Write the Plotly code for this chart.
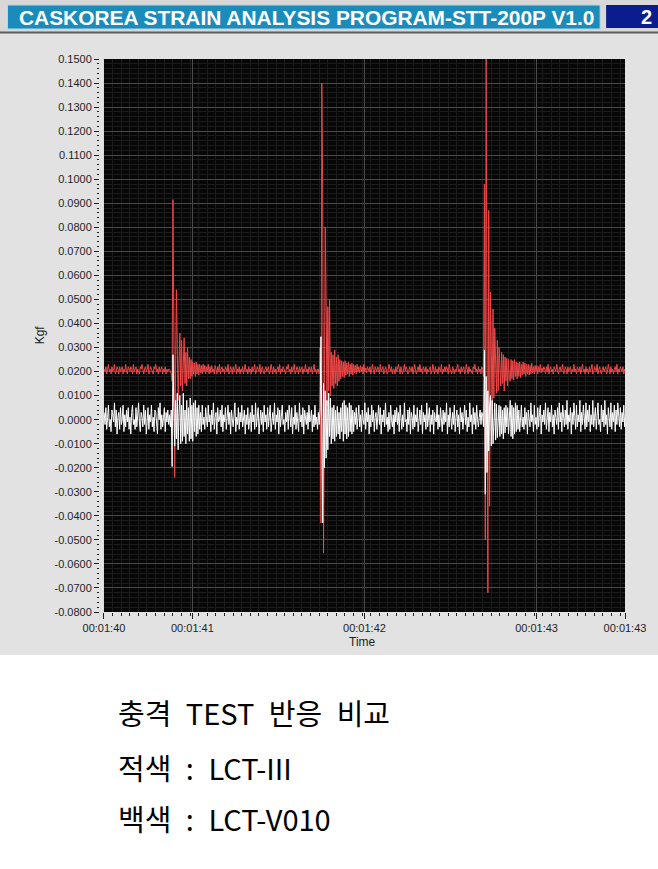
import numpy as np
import plotly.graph_objects as go

# ---------------- data (values in 0.001 kgf) ----------------
T0 = 100.487     # time of first sample [s]
DT = 0.005       # sample interval [s]

# red trace (LCT-III)
red_a = [21, 20, 22, 19, 21, 23, 20, 21, 19, 22, 20, 21, 23, 19, 20, 22, 21, 19, 22, 20,
         21, 22, 19, 21, 20, 23, 20, 19, 22, 21, 20, 22, 21, 19, 23, 20, 21, 22, 19, 21,
         20, 19, 22, 21, 23, 20, 19, 21, 22, 20, 21, 23, 19, 20, 22, 21, 20, 19, 22, 21,
         23, 20, 21, 19, 22, 20, 21, 22, 19, 21, 20, 22, 19, 21, 20, 21]
red_hit1 = [21, 20, 19, 16, 91.5, 40, -24, 20, 54, 30, 8, 24, 36, 14, 33, 12, 29, 34, 15, 28,
            14, 30, 17, 26]
red_b = [17, 25, 18, 24, 19, 23.5, 18, 24, 19, 23, 18.5, 23, 19.5, 22.5, 19, 23, 20, 22.5, 19, 22,
         20, 23, 19, 22, 19.5, 22.5, 20, 21, 19, 22.5, 21, 19, 22, 20, 23, 19, 21, 22, 20, 21,
         19, 22, 21, 20, 23, 19, 20, 22, 21, 19, 22, 20, 21, 23, 19, 21, 20, 22, 19, 21,
         20, 22, 19, 21, 23, 20, 21, 19, 22, 20, 21, 19, 22, 20, 21, 23, 19, 20, 22, 21,
         20, 23, 19, 21, 22, 20, 19, 21, 22, 20, 21, 22, 19, 20, 23, 21, 19, 22, 20, 21,
         19, 21, 22, 20, 23, 19, 21, 20, 22, 21, 20, 19, 22, 21, 23, 20, 21, 19, 22, 20,
         21, 23, 19, 20, 22, 21, 19, 22, 20, 21, 22, 19, 21, 20, 23, 20, 21, 19, 22, 21,
         20, 22, 19, 21, 23, 20, 21, 19, 21]
red_hit2 = [21, 19, 30, -43, 140, 96, -55.5, 20, 80, 50, 6, 47, 12, 50, 10, 28, 14, 27, 13, 29,
            15, 26, 14, 27, 16, 25, 17, 24.5]
red_c = [18, 24, 17.5, 24.5, 18.5, 23.5, 19, 24, 18, 23, 19, 23.5, 18.5, 23, 19.5, 22.5, 19, 23, 20, 22,
         19.5, 22.5, 20, 22, 19, 23, 20, 21.5, 19.5, 22, 21, 20, 22, 19, 21, 23, 20, 19, 22, 21,
         20, 22, 21, 19, 23, 20, 21, 22, 19, 20, 22, 21, 19, 20, 23, 21, 20, 22, 19, 21,
         21, 19, 22, 20, 21, 23, 20, 19, 22, 20, 19, 21, 23, 20, 22, 21, 19, 20, 22, 21,
         20, 22, 19, 21, 23, 20, 19, 21, 22, 20, 23, 20, 21, 19, 22, 21, 20, 22, 19, 21,
         20, 21, 22, 19, 20, 23, 21, 19, 22, 20, 21, 19, 22, 21, 20, 23, 19, 21, 20, 22,
         20, 22, 21, 19, 23, 21, 20, 19, 22, 21, 19, 21, 20, 22, 23, 20, 21, 19, 22, 20,
         21, 22, 19, 20, 23, 21, 19, 22, 20, 21, 20, 19, 22, 21, 23, 20, 21, 19, 22, 20,
         21, 19, 22]
red_hit3 = [21, 18, 98, -50, 150, 40, -72, 87, -36, 53, 20, 4, 46, 9, 38, 28, 11, 33, 12, 30,
            22, 14, 28, 15, 27, 12, 26, 16, 25.5, 14, 25, 17]
red_d = [16, 25, 17, 24.5, 16.5, 25, 18, 24, 17, 23.5, 18, 24, 17.5, 23, 18.5, 24, 19, 23.5, 18, 23,
         19, 23, 18.5, 22.5, 19, 23.5, 19.5, 22, 19, 22.5, 20, 22.5, 19, 22, 20, 23, 19.5, 21.5, 20, 22,
         21, 19, 22, 20, 23, 19, 21, 22, 20, 21, 19, 22, 21, 20, 23, 20, 19, 21, 22, 20,
         21, 23, 19, 20, 22, 21, 19, 22, 20, 21, 22, 19, 21, 20, 23, 20, 21, 19, 22, 21,
         20, 22, 19, 21, 23, 20, 21, 19, 22, 20, 21, 19, 22, 20, 21, 23, 19, 20, 22, 21,
         20, 23, 19, 21, 22, 20, 19, 21, 22, 20, 21, 22, 19, 20, 23, 21, 19, 22, 20, 21,
         19, 21, 22, 20, 23, 19, 21, 20, 22, 21, 20, 22, 19, 21, 20]

# white trace (LCT-V010)
white_a = [3, -2, 5, -4, 1, 6, -3, 0, -5, 4, 2, -1, 7, -3, 4, -6, 1, 3, -4, 5,
           -2, 0, 6, -5, 2, -3, 4, -1, 5, -4, 1, -6, 3, 6, -2, 0, -4, 5, -3, 2,
           7, -1, -5, 3, 1, -3, 6, -2, 4, -6, 0, 5, -4, 2, -1, 6, -3, 1, -5, 4,
           3, -2, -6, 5, 0, 7, -4, 2, -3, 1, 5, -5, 3, -1, 4, -2]
white_hit1 = [2, -3, 4, -19.5, 27, 5, -11, 8, -8, 11, -12.5, 3, 10, -10, 6, -9, 11, -7, 4, -10,
              8, -6, 5, -9]
white_b = [9, -8, 6, -9, 7, -5, 8, -7, 5, -6, 6, -4, 3, -5, 6, -2, 1, -4, 5, 0,
           -3, 6, -1, 2, -5, 4, -2, 7, -4, 1, 3, -6, 5, -1, 0, 4, -3, 6, -5, 2,
           -1, 5, -4, 1, 6, -2, 3, -6, 4, 0, -3, 2, 7, -5, 1, -2, 5, -4, 3, -1,
           6, -3, 0, 4, -6, 2, -2, 5, -4, 1, 3, -5, 6, -1, 2, -4, 7, -3, 0, 5,
           -6, 1, 4, -2, 3, -5, 6, -1, 2, -4, 5, -3, 1, 6, -5, 0, 3, -2, 7, -4,
           2, -1, 5, -6, 4, -3, 1, 6, -2, 0, -5, 3, -1, 4, -4, 6, 2, -3, 5, -6,
           1, -2, 6, -4, 3, 0, -5, 7, -1, 2, -3, 5, -6, 4, 1, -2, 3, -4, 6, -1,
           0, 4, -5, 2, -3, 6, -2, 1, -4]
white_hit2 = [3, -2, 5, 34.5, -10, -43, 15, -20, 12, -16, 8, -12.5, 11, -7, 9, -10, 5, -8, 6, -9,
              4, -7, 5.5, -6, 3, -8, 5, -5]
white_c = [7, -9, 8, -6, 6, -8, 5, -7, 7, -5, 6, -6, 4, -5, 3, -2, 5, -4, 1, 6,
           -3, 2, -5, 4, 0, -2, 7, -4, 3, -1, 5, -6, 2, -3, 6, -1, 4, -5, 1, 3,
           -4, 0, 6, -2, 5, -6, 2, -1, 4, -3, 7, -2, 1, -5, 3, -4, 6, 0, -3, 2,
           -6, 4, -1, 5, -2, 3, -5, 6, 1, -4, 2, -3, 7, -1, 0, -5, 4, -2, 5, -6,
           3, 1, -4, 6, -3, 2, -1, 5, -5, 0, 4, -2, 6, -6, 3, -1, 2, -4, 7, -3,
           1, 5, -5, 2, -2, 4, -6, 3, 0, -1, 6, -4, 2, -3, 5, 1, -5, 4, -2, 3,
           -1, 7, -6, 2, -3, 5, 0, -4, 3, -2, 6, -5, 1, 4, -3, 2, -6, 5, -1, 3,
           -4, 0, 6, -2, 4, -5, 1, -3, 7, -1, 2, -6, 5, -2, 3, -4, 6, 0, -3, 1,
           4, -2, 3]
white_hit3 = [2, -3, 29, -31, 18, -22, 12, -13, 6, 10, -11, 8, -10, 3, 7, -8.5, 6.5, -7.5, 2, 6,
              -7, 5.5, -6, 4, -8, 5, -5.5, 6, -3, 5, -6, 4]
white_d = [8, -7, 6, -8, 5, -6, 7, -5, 6, -4, 4, -5, 2, 6, -3, 1, -4, 5, -2, 3,
           -6, 4, 0, -3, 7, -1, 2, -5, 6, -2, 1, -4, 5, -3, 3, 6, -6, 2, -1, 4,
           -2, 7, -4, 0, 5, -5, 3, -1, 6, -3, 2, -6, 4, 1, -2, 5, -4, 7, -1, 3,
           -5, 6, 0, -3, 4, -2, 8, -4, 2, -1, 5, -6, 3, -2, 7, 1, -4, 6, -3, 2,
           -1, 8, -5, 3, -2, 6, 0, -4, 7, -3, 4, -1, 6, -5, 2, -2, 8, -3, 1, 5,
           -4, 3, 7, -2, 0, -5, 6, -1, 4, -3, 8, -2, 2, -6, 5, 1, -3, 7, -4, 3,
           -1, 6, -5, 4, -2, 7, 0, -3, 5, -4, 3, -1, 6, -3, 2]

x_tick_vals = [100.486, 101.0, 102.0, 103.0, 103.514]
x_tick_labels = ["00:01:40", "00:01:41", "00:01:42", "00:01:43", "00:01:43"]
y_tick_vals = [0.15, 0.14, 0.13, 0.12, 0.11, 0.10, 0.09, 0.08, 0.07, 0.06, 0.05, 0.04,
               0.03, 0.02, 0.01, 0.0, -0.01, -0.02, -0.03, -0.04, -0.05, -0.06, -0.07, -0.08]
y_tick_labels = [("%.4f" % v).replace("-0.0000", "0.0000") for v in y_tick_vals]

title_text = "CASKOREA STRAIN ANALYSIS PROGRAM-STT-200P V1.0"
SP = "\u2002"
note_lines = ["충격" + SP + "TEST" + SP + "반응" + SP + "비교",
              "적색" + SP + ":" + SP + "LCT-III",
              "백색" + SP + ":" + SP + "LCT-V010"]

# ---------------- build ----------------
red = np.array(red_a + red_hit1 + red_b + red_hit2 + red_c + red_hit3 + red_d) * 0.001
white = np.array(white_a + white_hit1 + white_b + white_hit2 + white_c + white_hit3 + white_d) * 0.001
t_red = T0 + DT * np.arange(len(red))
t_white = T0 + DT * np.arange(len(white))

W, H = 658, 869
ML, MR, MT, MB = 99, 30, 59, 257
PW = W - ML - MR
PH = H - MT - MB


def px(x):
    return (x - ML) / PW


def py(y):
    return (H - MB - y) / PH


def rect(x0, y0, x1, y1, color, line=None):
    return dict(type="rect", xref="paper", yref="paper",
                x0=px(x0), x1=px(x1), y0=py(y1), y1=py(y0),
                fillcolor=color, line=line or dict(width=0), layer="below")


fig = go.Figure()
fig.add_trace(go.Scatter(x=t_red, y=red, mode="lines",
                         line=dict(color="#f04848", width=1), hoverinfo="skip", showlegend=False))
fig.add_trace(go.Scatter(x=t_white, y=white, mode="lines",
                         line=dict(color="#ffffff", width=1), hoverinfo="skip", showlegend=False))

shapes = [
    rect(-10, 655, W + 10, H + 10, "#ffffff"),
    rect(-10, -10, W + 10, 32, "#d8d8d8"),
    rect(-10, 31.5, W + 10, 33.5, "#5c5c5c"),
    rect(7, 5, 603, 29, "#1a8cbc", dict(color="#bcd6e2", width=1)),
    rect(609, 5, 670, 28, "#0b1c8e"),
]

TICKFONT = dict(family="Liberation Sans", size=11, color="#1e1e1e")

annotations = [
    dict(text=title_text, x=px(17), y=py(17.5), xref="paper", yref="paper",
         xanchor="left", yanchor="middle", showarrow=False,
         font=dict(family="Liberation Sans", size=20.9, color="#ffffff", weight="bold")),
    dict(text="2", x=px(657), y=py(17), xref="paper", yref="paper",
         xanchor="right", yanchor="middle", showarrow=False,
         font=dict(family="Liberation Sans", size=20, color="#ffffff", weight="bold")),
    dict(text="Kgf", x=px(40), y=py(335), xref="paper", yref="paper", textangle=-90,
         xanchor="center", yanchor="middle", showarrow=False,
         font=dict(family="Liberation Sans", size=12, color="#1e1e1e")),
    dict(text="Time", x=px(364), y=py(642), xref="paper", yref="paper",
         xanchor="center", yanchor="middle", showarrow=False,
         font=dict(family="Liberation Sans", size=12, color="#1e1e1e")),
]
for line_text, yc in zip(note_lines, [712, 767, 818]):
    annotations.append(dict(text=line_text, x=px(116), y=py(yc), xref="paper", yref="paper",
                            xanchor="left", yanchor="middle", showarrow=False,
                            font=dict(family="Noto Sans CJK KR", size=29, color="#000000")))

fig.update_layout(
    width=W, height=H,
    margin=dict(l=ML, r=MR, t=MT, b=MB, pad=0),
    paper_bgcolor="#e2e2e2",
    plot_bgcolor="#070707",
    shapes=shapes,
    annotations=annotations,
    hovermode=False,
    xaxis=dict(
        domain=[5 / PW, 1], range=[100.486, 103.514],
        tickmode="array", tickvals=x_tick_vals, ticktext=x_tick_labels,
        ticks="outside", ticklen=6, tickcolor="#1e1e1e", tickwidth=1,
        tickfont=TICKFONT, showgrid=True, gridcolor="#4a4a4a", gridwidth=1,
        zeroline=False, showline=False, fixedrange=True,
        minor=dict(tickmode="linear", tick0=100.486, dtick=0.05, ticks="outside", ticklen=3,
                   tickcolor="#1e1e1e", showgrid=True, gridcolor="#1b1b1b"),
    ),
    yaxis=dict(
        anchor="free", position=0, range=[-0.08, 0.15],
        tickmode="array", tickvals=y_tick_vals, ticktext=y_tick_labels,
        ticks="outside", ticklen=5, tickcolor="#1e1e1e", tickwidth=1,
        tickfont=TICKFONT, showgrid=True, gridcolor="#4a4a4a", gridwidth=1,
        zeroline=False, showline=False, fixedrange=True,
        minor=dict(tickmode="linear", tick0=0, dtick=0.002, ticks="outside", ticklen=2,
                   tickcolor="#1e1e1e", showgrid=True, gridcolor="#1b1b1b"),
    ),
)

fig.write_html("out.html",
               config={"displayModeBar": False, "staticPlot": True},
               post_script="document.body.style.margin='0';"
                           "document.documentElement.style.overflow='hidden';")
